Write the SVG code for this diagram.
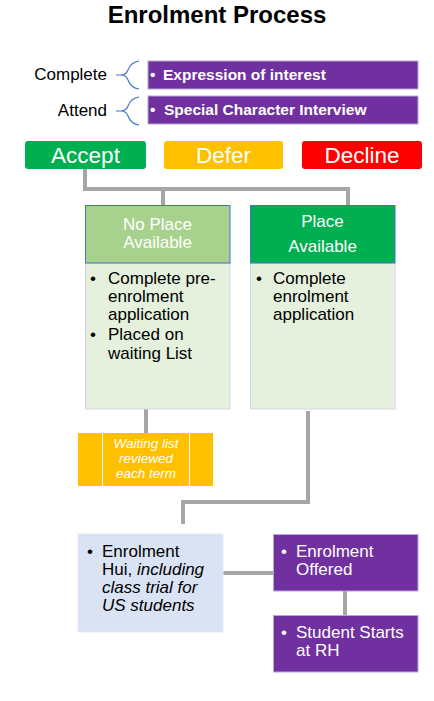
<svg xmlns="http://www.w3.org/2000/svg" width="434" height="701" viewBox="0 0 434 701">
<style>
text{font-family:"Liberation Sans",Arial,sans-serif}
.w{fill:#fff}
.k{fill:#000}
.t16{font-size:17px}
.pur{fill:#7030A0;stroke:#B4A7D6;stroke-width:1}
.conn{fill:none;stroke:#A6A6A6;stroke-width:4}
.brace{fill:none;stroke:#4472C4;stroke-width:1.2}
.body{fill:#E5F0DD;stroke:#D0D8E8;stroke-width:1}
.it{font-style:italic}
.btn{font-size:22.5px}
</style>
<rect width="434" height="701" fill="#fff"/>
<text x="217" y="23" text-anchor="middle" font-size="24" font-weight="bold" class="k">Enrolment Process</text>

<g id="connectors">
<polyline class="conn" points="85,169 85,189 348,189 348,215"/>
<line class="conn" x1="163" y1="189" x2="163" y2="215"/>
<line class="conn" x1="146" y1="409" x2="146" y2="433"/>
<polyline class="conn" points="308,411 308,502 183,502 183,524"/>
<line class="conn" x1="223" y1="573" x2="273" y2="573"/>
<line class="conn" x1="345" y1="591" x2="345" y2="615"/>
</g>

<g id="complete">
<text x="107" y="80" text-anchor="end" class="k t16">Complete</text>
<path class="brace" d="M116,75 L121,75 Q126,75 128,70 Q131,62 139,61 M121,75 Q126,75 128,80 Q131,88 139,89"/>
<rect class="pur" x="148" y="61" width="270" height="28" stroke="none"/>
<text x="150" y="80" class="w" font-size="15.5" font-weight="bold">•<tspan x="163">Expression of interest</tspan></text>
</g>
<g id="attend">
<text x="107" y="116" text-anchor="end" class="k t16">Attend</text>
<path class="brace" d="M116,111 L121,111 Q126,111 128,106 Q131,98 139,97 M121,111 Q126,111 128,116 Q131,124 139,125"/>
<rect class="pur" x="148" y="96" width="270" height="28" stroke="none"/>
<text x="150" y="115" class="w" font-size="15.5" font-weight="bold">•<tspan x="164">Special Character Interview</tspan></text>
</g>

<g id="accept">
<rect x="25" y="141" width="121" height="28" rx="3" fill="#00B050"/>
<text x="85.5" y="163" text-anchor="middle" class="w btn">Accept</text>
</g>
<g id="defer">
<rect x="164" y="141" width="119" height="28" rx="3" fill="#FFC000"/>
<text x="223.5" y="163" text-anchor="middle" class="w btn">Defer</text>
</g>
<g id="decline">
<rect x="302" y="141" width="120" height="28" rx="3" fill="#FF0000"/>
<text x="362" y="163" text-anchor="middle" class="w btn">Decline</text>
</g>

<g id="no-place">
<rect class="body" x="85.5" y="263" width="144.5" height="146"/>
<rect x="85.5" y="205.5" width="144.5" height="57.5" fill="#A9D18E" stroke="#4472C4" stroke-width="1"/>
<text x="157.5" y="230" text-anchor="middle" class="w t16">No Place</text>
<text x="157.5" y="248" text-anchor="middle" class="w t16">Available</text>
<g class="k t16">
<text x="90" y="284">•</text><text x="108" y="284">Complete pre-</text>
<text x="108" y="302">enrolment</text>
<text x="108" y="320">application</text>
<text x="90" y="340">•</text><text x="108" y="340">Placed on</text>
<text x="108" y="359">waiting List</text>
</g>
</g>

<g id="place">
<rect class="body" x="250.5" y="263" width="144.5" height="146"/>
<rect x="250.5" y="205.5" width="144.5" height="57.5" fill="#00B050" stroke="#4472C4" stroke-width="1"/>
<text x="322.5" y="227" text-anchor="middle" class="w t16">Place</text>
<text x="322.5" y="252" text-anchor="middle" class="w t16">Available</text>
<g class="k t16">
<text x="256" y="284">•</text><text x="273" y="284">Complete</text>
<text x="273" y="302">enrolment</text>
<text x="273" y="320">application</text>
</g>
</g>

<g id="waiting">
<rect x="78" y="433" width="135" height="53" fill="#FFC000"/>
<line x1="102.5" y1="433" x2="102.5" y2="486" stroke="#fff" stroke-width="1"/>
<line x1="189.5" y1="433" x2="189.5" y2="486" stroke="#fff" stroke-width="1"/>
<g class="w it" font-size="13.5" text-anchor="middle">
<text x="146" y="448">Waiting list</text>
<text x="146" y="463">reviewed</text>
<text x="146" y="478">each term</text>
</g>
</g>

<g id="hui">
<rect x="78" y="534" width="145" height="98" fill="#DAE3F3" stroke="#E4EAF5" stroke-width="1"/>
<g class="k t16">
<text x="87" y="557">•</text><text x="102" y="557">Enrolment</text>
<text x="102" y="575">Hui, <tspan class="it">including</tspan></text>
<text x="102" y="593" class="it">class trial for</text>
<text x="102" y="611" class="it">US students</text>
</g>
</g>

<g id="offered">
<rect class="pur" x="273.5" y="534.5" width="144.5" height="56.5"/>
<g class="w t16">
<text x="281" y="557">•</text><text x="296" y="557">Enrolment</text>
<text x="296" y="575">Offered</text>
</g>
</g>

<g id="starts">
<rect class="pur" x="273.5" y="615.5" width="144.5" height="56.5"/>
<g class="w t16">
<text x="281" y="638">•</text><text x="296" y="638">Student Starts</text>
<text x="296" y="656">at RH</text>
</g>
</g>
</svg>
